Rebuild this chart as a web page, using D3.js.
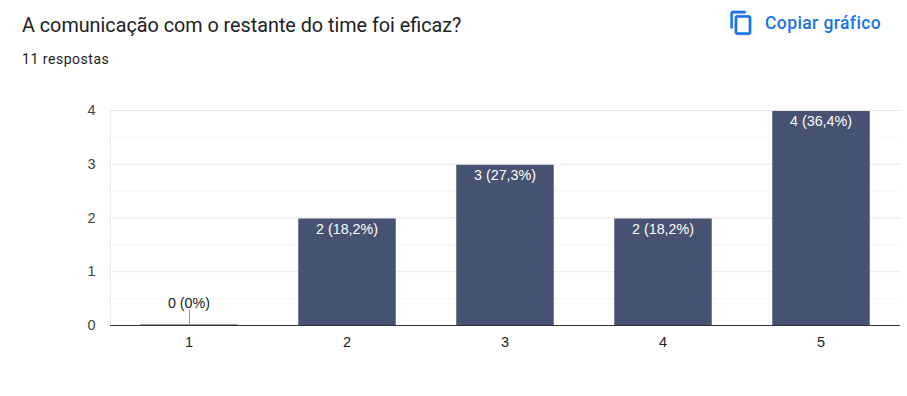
<!DOCTYPE html>
<html>
<head>
<meta charset="utf-8">
<script src="https://cdn.jsdelivr.net/npm/d3@7"></script>
<style>
  html, body { margin: 0; padding: 0; background: #fff; overflow: hidden; }
  svg { display: block; }
</style>
</head>
<body>
<div id="chart"></div>
<script>
const categories = ["1", "2", "3", "4", "5"];
const counts = [0, 2, 3, 2, 4];
const barLabels = ["0 (0%)", "2 (18,2%)", "3 (27,3%)", "2 (18,2%)", "4 (36,4%)"];
const majorTicks = [0, 1, 2, 3, 4];
const minorTicks = [0.5, 1.5, 2.5, 3.5];
const titleText = "A comunicação com o restante do time foi eficaz?";
const subtitleText = "11 respostas";
const copyText = "Copiar gráfico";

const svgWidth = 907;
const svgHeight = 396;
const plot = { left: 110, right: 900, top: 110.5, bottom: 325.5 };
const chartFont = "'Liberation Sans', Arial, sans-serif";

const svg = d3.select("#chart")
  .append("svg")
  .attr("width", svgWidth)
  .attr("height", svgHeight);

// Header
svg.append("text")
  .attr("x", 22)
  .attr("y", 32)
  .attr("font-family", "Roboto, sans-serif")
  .attr("font-size", "19.75px")
  .attr("fill", "#202124")
  .text(titleText);

svg.append("text")
  .attr("x", 22)
  .attr("y", 64)
  .attr("font-family", "Roboto, sans-serif")
  .attr("font-size", "14px")
  .attr("letter-spacing", "0.53px")
  .attr("fill", "#202124")
  .text(subtitleText);

// Copy button
svg.append("path")
  .attr("transform", "translate(728.4,9.9) scale(1.08)")
  .attr("d", "M16 1H4C2.9 1 2 1.9 2 3v14h2V3h12V1zM19 5H8C6.9 5 6 5.9 6 7v14c0 1.1.9 2 2 2h11c1.1 0 2-.9 2-2V7c0-1.1-.9-2-2-2zM19 21H8V7h11v14z")
  .attr("fill", "#1a73e8")
  .attr("stroke", "#1a73e8")
  .attr("stroke-width", 0.5);

svg.append("text")
  .attr("x", 765)
  .attr("y", 29)
  .attr("font-family", "Roboto, sans-serif")
  .attr("font-size", "17.5px")
  .attr("font-weight", "500")
  .attr("letter-spacing", "0.4px")
  .attr("fill", "#1a73e8")
  .text(copyText);

// Scales
const xScale = d3.scaleBand()
  .domain(categories)
  .range([plot.left, plot.right])
  .paddingInner(0.383)
  .paddingOuter(0.1915);

const yScale = d3.scaleLinear()
  .domain([0, 4])
  .range([plot.bottom, plot.top]);

// Grid
svg.append("g")
  .selectAll("line")
  .data(minorTicks)
  .join("line")
  .attr("x1", plot.left)
  .attr("x2", plot.right)
  .attr("y1", d => yScale(d))
  .attr("y2", d => yScale(d))
  .attr("stroke", "#f6f6f6");

svg.append("g")
  .selectAll("line")
  .data(majorTicks.filter(d => d > 0))
  .join("line")
  .attr("x1", plot.left)
  .attr("x2", plot.right)
  .attr("y1", d => yScale(d))
  .attr("y2", d => yScale(d))
  .attr("stroke", "#e9e9e9");

svg.append("line")
  .attr("x1", plot.left + 0.5)
  .attr("x2", plot.left + 0.5)
  .attr("y1", plot.top)
  .attr("y2", plot.bottom)
  .attr("stroke", "#ebebeb");

// Bars
svg.append("g")
  .selectAll("rect")
  .data(categories.filter((d, i) => counts[i] > 0))
  .join("rect")
  .attr("x", d => xScale(d))
  .attr("y", d => yScale(counts[categories.indexOf(d)]) + 0.5)
  .attr("width", xScale.bandwidth())
  .attr("height", d => yScale(0) - yScale(counts[categories.indexOf(d)]) - 0.5)
  .attr("fill", "#465272");

// Empty bar: flat edge on the baseline plus a leader to its label
const zeroCategories = categories.filter((d, i) => counts[i] === 0);
svg.append("g")
  .selectAll("line")
  .data(zeroCategories)
  .join("line")
  .attr("x1", d => xScale(d))
  .attr("x2", d => xScale(d) + xScale.bandwidth())
  .attr("y1", yScale(0) - 1)
  .attr("y2", yScale(0) - 1)
  .attr("stroke", "#999");

svg.append("g")
  .selectAll("line")
  .data(zeroCategories)
  .join("line")
  .attr("x1", d => Math.floor(xScale(d) + xScale.bandwidth() / 2) + 0.5)
  .attr("x2", d => Math.floor(xScale(d) + xScale.bandwidth() / 2) + 0.5)
  .attr("y1", yScale(0))
  .attr("y2", yScale(0) - 16)
  .attr("stroke", "#999");

// Bar labels
svg.append("g")
  .selectAll("text")
  .data(categories)
  .join("text")
  .attr("x", d => xScale(d) + xScale.bandwidth() / 2)
  .attr("y", (d, i) => counts[i] === 0 ? yScale(0) - 17.5 : yScale(counts[i]) + 15.5)
  .attr("text-anchor", "middle")
  .attr("font-family", chartFont)
  .attr("font-size", "14.3px")
  .attr("fill", (d, i) => counts[i] === 0 ? "#222" : "#fff")
  .text((d, i) => barLabels[i]);

// Y axis
const yAxis = svg.append("g")
  .attr("transform", `translate(${plot.left},-0.5)`)
  .call(d3.axisLeft(yScale).tickValues(majorTicks).tickFormat(d3.format("d")).tickSize(0).tickPadding(14.5));
yAxis.select(".domain").remove();
yAxis.selectAll("text")
  .attr("font-family", chartFont)
  .style("font-size", "14.5px")
  .attr("fill", "#444");

// X axis
const xAxis = svg.append("g")
  .attr("transform", `translate(0,${plot.bottom})`)
  .call(d3.axisBottom(xScale).tickSize(0).tickPadding(11));
xAxis.select(".domain").remove();
xAxis.selectAll("text")
  .attr("font-family", chartFont)
  .style("font-size", "14.5px")
  .attr("fill", "#222");

// Baseline
svg.append("line")
  .attr("x1", plot.left)
  .attr("x2", plot.right)
  .attr("y1", plot.bottom)
  .attr("y2", plot.bottom)
  .attr("stroke", "#333");
</script>
</body>
</html>
